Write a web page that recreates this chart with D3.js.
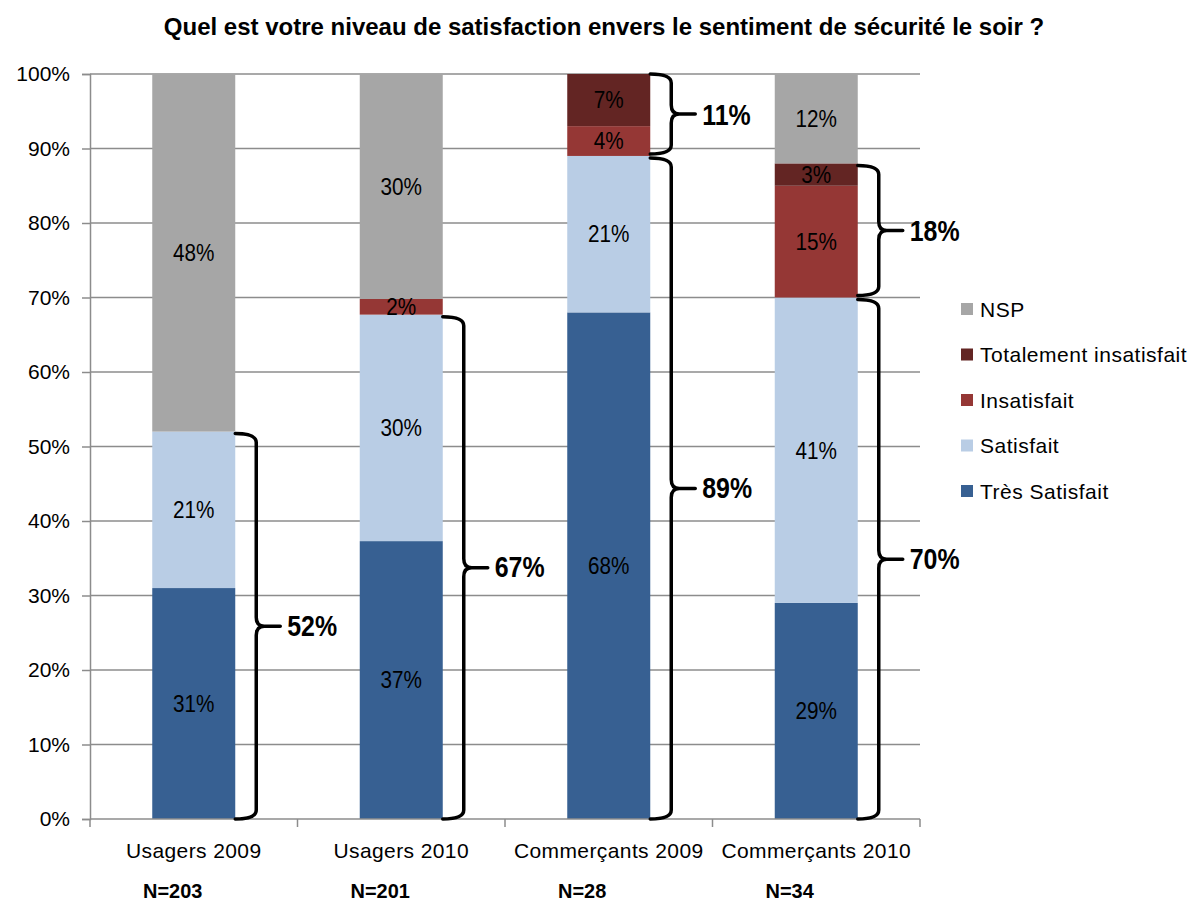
<!DOCTYPE html>
<html lang="fr">
<head>
<meta charset="UTF-8">
<title>Sentiment de sécurité le soir</title>
<script src="https://cdn.jsdelivr.net/npm/d3@7/dist/d3.min.js"></script>
<style>
  body { margin: 0; background: #fff; }
  svg text { font-family: "Liberation Sans", Arial, sans-serif; fill: #000; }
</style>
</head>
<body>
<script>
  // data
  var categories = ['Usagers 2009', 'Usagers 2010', 'Commerçants 2009', 'Commerçants 2010'];
  var sampleSizes = ['N=203', 'N=201', 'N=28', 'N=34'];
  var tresSatisfait = [31, 37.3, 68, 29];
  var satisfait = [21, 30.4, 21, 41];
  var insatisfait = [0, 2.1, 4, 15];
  var totalementInsatisfait = [0, 0, 7, 3];
  var nsp = [48, 30.2, 0, 12];
  var seriesNames = ['Très Satisfait', 'Satisfait', 'Insatisfait', 'Totalement insatisfait', 'NSP'];
  var seriesColors = ['#376092', '#b9cde5', '#953735', '#632523', '#a6a6a6'];
  var yTicks = [0, 10, 20, 30, 40, 50, 60, 70, 80, 90, 100];

  // braces on the right of bars
  var braceCat = [0, 1, 2, 2, 3, 3];
  var braceLo = [0, 0, 0, 89, 0, 70];
  var braceHi = [52, 67.7, 89, 100, 70, 88];
  var braceLabel = ['52%', '67%', '89%', '11%', '70%', '18%'];

  var w = 1191, h = 905;
  var mLeft = 90, mRight = 920, mTop = 74, mBottom = 819;

  var rows = categories.map(function(c, i) {
    return { cat: c, 'Très Satisfait': tresSatisfait[i], 'Satisfait': satisfait[i],
             'Insatisfait': insatisfait[i], 'Totalement insatisfait': totalementInsatisfait[i], 'NSP': nsp[i] };
  });

  var svg = d3.select('body').append('svg')
    .attr('width', w).attr('height', h);

  var x = d3.scaleBand().domain(categories).range([mLeft, mRight]).paddingInner(0.6).paddingOuter(0.3);
  var xBand = d3.scaleBand().domain(categories).range([mLeft, mRight]);
  var y = d3.scaleLinear().domain([0, 100]).range([mBottom, mTop]);
  var color = d3.scaleOrdinal().domain(seriesNames).range(seriesColors);

  // squeeze text horizontally (the original font is a narrow one)
  function narrow(sel, fx, fy, sx) {
    sel.attr('transform', function(d, i) {
      return 'translate(' + fx(d, i) + ',' + fy(d, i) + ') scale(' + sx + ',1)';
    });
  }

  // title
  svg.append('text')
    .attr('x', 604).attr('y', 35)
    .attr('text-anchor', 'middle')
    .attr('font-size', '24px').attr('font-weight', 'bold')
    .text('Quel est votre niveau de satisfaction envers le sentiment de sécurité le soir ?');

  // gridlines
  svg.append('g').selectAll('line')
    .data(yTicks.filter(function(d) { return d > 0; }))
    .enter().append('line')
    .attr('x1', mLeft).attr('x2', mRight)
    .attr('y1', function(d) { return y(d); }).attr('y2', function(d) { return y(d); })
    .attr('stroke', '#8c8c8c').attr('stroke-width', 1.5);

  // y axis
  var yAxis = d3.axisLeft(y).tickValues(yTicks).tickFormat(function(d) { return d + '%'; })
    .tickSize(8).tickPadding(12);
  var gy = svg.append('g').attr('transform', 'translate(' + mLeft + ',0)').call(yAxis);
  gy.select('.domain').attr('stroke', '#8c8c8c').attr('stroke-width', 1.5);
  gy.selectAll('.tick line').attr('stroke', '#8c8c8c').attr('stroke-width', 1.5);
  gy.selectAll('.tick text').attr('font-size', '21px').attr('font-family', null).attr('fill', '#000');

  // stacked bars
  var stack = d3.stack().keys(seriesNames);
  var layers = stack(rows);

  var layerG = svg.append('g').selectAll('g')
    .data(layers).enter().append('g')
    .attr('fill', function(d) { return color(d.key); });

  layerG.selectAll('rect')
    .data(function(d) { return d; })
    .enter().append('rect')
    .attr('x', function(d) { return x(d.data.cat); })
    .attr('y', function(d) { return y(d[1]); })
    .attr('width', x.bandwidth())
    .attr('height', function(d) { return y(d[0]) - y(d[1]); });

  var segText = svg.append('g').selectAll('text')
    .data(layers.flatMap(function(l) { return l.filter(function(p) { return p[1] - p[0] > 0; }); }))
    .enter().append('text')
    .attr('dy', '0.36em')
    .attr('text-anchor', 'middle')
    .attr('font-size', '23px')
    .text(function(d) { return Math.round(d[1] - d[0]) + '%'; });
  narrow(segText,
    function(d) { return x(d.data.cat) + x.bandwidth() / 2; },
    function(d) { return y((d[0] + d[1]) / 2); }, 0.9);

  // x axis
  var xAxis = d3.axisBottom(xBand).tickSize(0).tickPadding(24);
  var gx = svg.append('g').attr('transform', 'translate(0,' + mBottom + ')').call(xAxis);
  gx.select('.domain').remove();
  gx.selectAll('.tick text').attr('font-size', '21px').attr('font-family', null)
    .attr('fill', '#000').attr('letter-spacing', '0.4px');
  svg.append('line')
    .attr('x1', mLeft).attr('x2', mRight).attr('y1', mBottom).attr('y2', mBottom)
    .attr('stroke', '#8c8c8c').attr('stroke-width', 1.5);
  var edges = categories.map(function(c) { return xBand(c); }).concat([mRight]);
  svg.append('g').selectAll('line').data(edges).enter().append('line')
    .attr('x1', function(d) { return d; }).attr('x2', function(d) { return d; })
    .attr('y1', mBottom).attr('y2', mBottom + 8)
    .attr('stroke', '#8c8c8c').attr('stroke-width', 1.5);

  // N= labels
  var nText = svg.append('g').selectAll('text').data(sampleSizes).enter().append('text')
    .attr('dy', '0.36em')
    .attr('font-size', '21px').attr('font-weight', 'bold')
    .text(function(d) { return d; });
  narrow(nText,
    function(d, i) { return xBand(categories[i]) + 53; },
    function() { return 890; }, 0.95);

  // braces
  function bracePath(x0, y1, y2) {
    var xv = x0 + 21, xt = xv + 24, r = 9, ym = (y1 + y2) / 2;
    return 'M' + x0 + ',' + y1 +
      ' Q' + xv + ',' + y1 + ' ' + xv + ',' + (y1 + r) +
      ' L' + xv + ',' + (ym - r) +
      ' Q' + xv + ',' + ym + ' ' + (xv + 8) + ',' + ym +
      ' L' + xt + ',' + ym +
      ' M' + (xv + 8) + ',' + ym +
      ' Q' + xv + ',' + ym + ' ' + xv + ',' + (ym + r) +
      ' L' + xv + ',' + (y2 - r) +
      ' Q' + xv + ',' + y2 + ' ' + x0 + ',' + y2;
  }

  svg.append('g').selectAll('path')
    .data(braceLabel).enter().append('path')
    .attr('d', function(d, i) {
      var x0 = x(categories[braceCat[i]]) + x.bandwidth();
      var y1 = y(braceHi[i]) + (braceHi[i] < 100 ? 2 : 0);
      var y2 = y(braceLo[i]) - (braceLo[i] > 0 ? 2 : 0);
      return bracePath(x0, y1, y2);
    })
    .attr('fill', 'none').attr('stroke', '#000').attr('stroke-width', 3.5)
    .attr('stroke-linecap', 'round').attr('stroke-linejoin', 'round');

  var braceText = svg.append('g').selectAll('text')
    .data(braceLabel).enter().append('text')
    .attr('dy', '0.36em')
    .attr('font-size', '29px').attr('font-weight', 'bold')
    .text(function(d) { return d; });
  narrow(braceText,
    function(d, i) { return x(categories[braceCat[i]]) + x.bandwidth() + 52; },
    function(d, i) { return y((braceLo[i] + braceHi[i]) / 2); }, 0.86);

  // legend
  var legendItems = seriesNames.slice().reverse();
  var legend = svg.append('g').selectAll('g')
    .data(legendItems).enter().append('g')
    .attr('transform', function(d, i) { return 'translate(961,' + (309 + i * 45.5) + ')'; });
  legend.append('rect')
    .attr('x', 0).attr('y', -6).attr('width', 12).attr('height', 12)
    .attr('fill', function(d) { return color(d); });
  legend.append('text')
    .attr('x', 19).attr('dy', '0.36em')
    .attr('font-size', '21px').attr('letter-spacing', '0.5px')
    .text(function(d) { return d; });
</script>
</body>
</html>
